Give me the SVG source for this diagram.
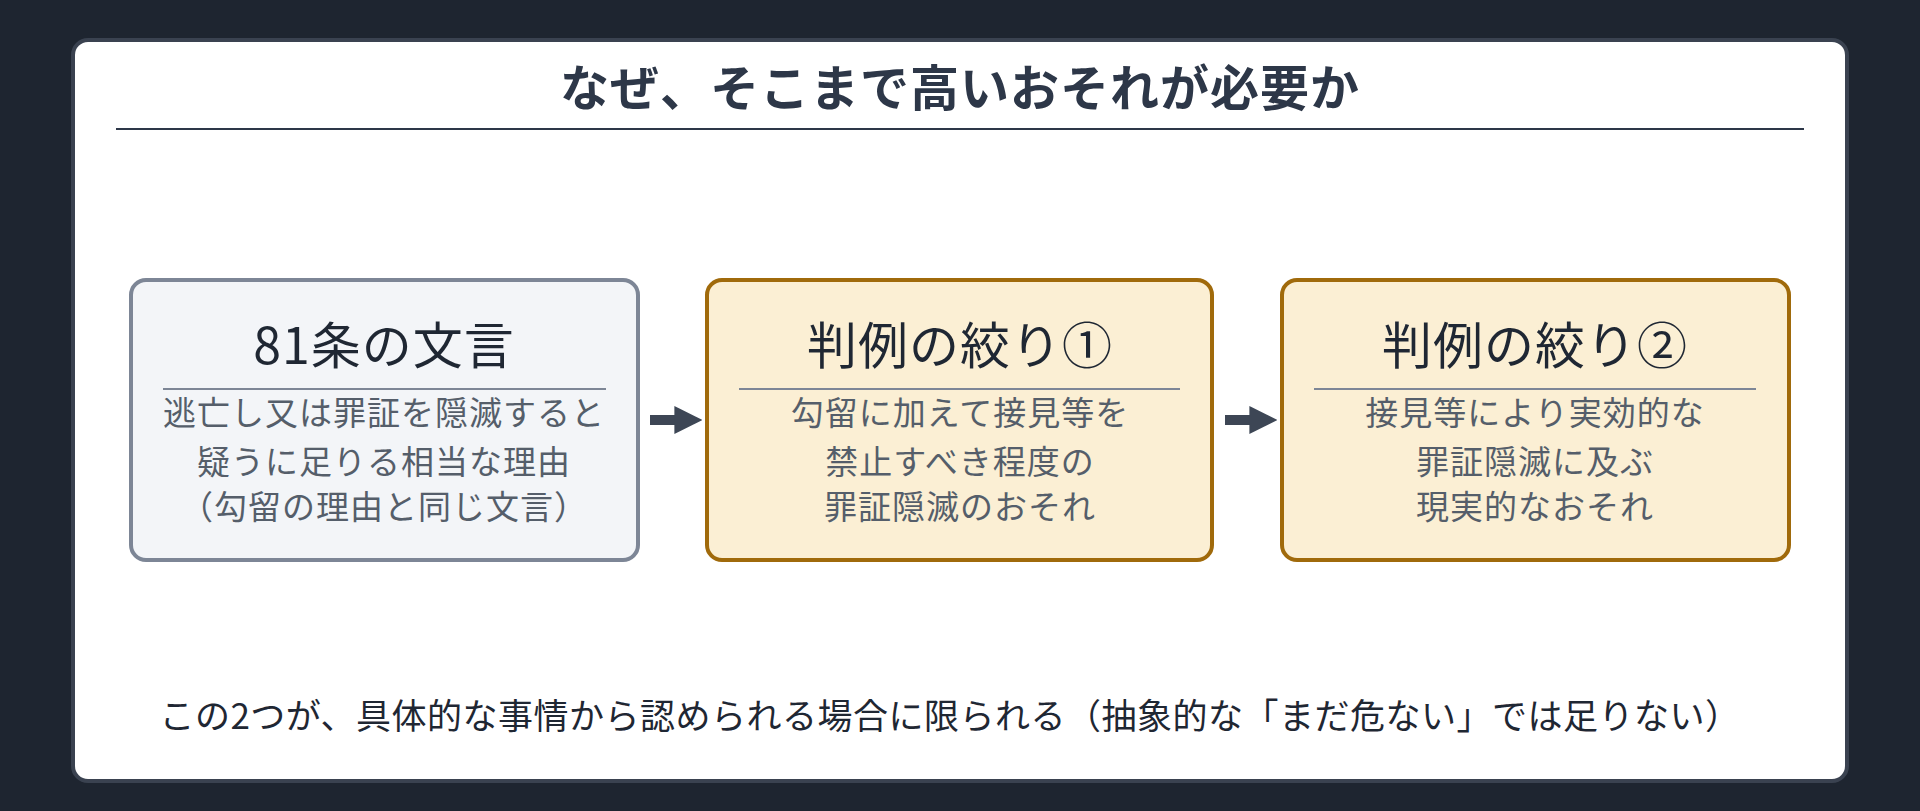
<svg xmlns="http://www.w3.org/2000/svg" width="1920" height="811" viewBox="0 0 1920 811">
<style>
text{font-family:"Noto Sans CJK JP","Noto Sans",sans-serif;text-anchor:middle}
.t{font-size:50px;fill:#1f2733;letter-spacing:1px}
.b{font-size:33px;fill:#555e6a;letter-spacing:1px}
.g{fill:#f3f5f8;stroke:#7d8696;stroke-width:4}
.y{fill:#fbefd4;stroke:#a06a0b;stroke-width:4}
.d{stroke:#7d8696;stroke-width:2}
</style>
<defs><marker id="ah" viewBox="0 0 10 10" refX="2" refY="5" markerWidth="2.8" markerHeight="3.6" orient="auto" markerUnits="strokeWidth"><path d="M0,0L10,5L0,10z" fill="#3d4655"/></marker></defs>
<rect width="1920" height="811" fill="#1e2530"/>
<rect x="73" y="40" width="1774" height="741" rx="15" fill="#fff" stroke="#3a4250" stroke-width="4"/>
<text x="960" y="106" style="font-size:49px;font-weight:bold;fill:#2d3748;letter-spacing:1px">なぜ、そこまで高いおそれが必要か</text>
<line x1="116" y1="129" x2="1804" y2="129" stroke="#2d3748" stroke-width="2"/>
<g id="n1"><rect class="g" x="131" y="280" width="507" height="280" rx="15"/>
<text class="t" x="384" y="364">81条の文言</text><line class="d" x1="163" y1="389" x2="606" y2="389"/>
<text class="b" x="384" y="425">逃亡し又は罪証を隠滅すると</text><text class="b" x="384" y="474">疑うに足りる相当な理由</text><text class="b" x="384" y="519">（勾留の理由と同じ文言）</text></g>
<g id="n2"><rect class="y" x="707" y="280" width="505" height="280" rx="15"/>
<text class="t" x="960" y="364">判例の絞り①</text><line class="d" x1="739" y1="389" x2="1180" y2="389"/>
<text class="b" x="960" y="425">勾留に加えて接見等を</text><text class="b" x="960" y="474">禁止すべき程度の</text><text class="b" x="960" y="519">罪証隠滅のおそれ</text></g>
<g id="n3"><rect class="y" x="1282" y="280" width="507" height="280" rx="15"/>
<text class="t" x="1535" y="364">判例の絞り②</text><line class="d" x1="1314" y1="389" x2="1756" y2="389"/>
<text class="b" x="1535" y="425">接見等により実効的な</text><text class="b" x="1535" y="474">罪証隠滅に及ぶ</text><text class="b" x="1535" y="519">現実的なおそれ</text></g>
<g id="connectors" stroke="#3d4655" stroke-width="10" marker-end="url(#ah)">
<line x1="650" y1="420" x2="680" y2="420"/><line x1="1225" y1="420" x2="1255" y2="420"/></g>
<text x="950" y="729" style="font-size:35px;fill:#1f2733;letter-spacing:0.5px">この2つが、具体的な事情から認められる場合に限られる（抽象的な「まだ危ない」では足りない）</text>
</svg>
